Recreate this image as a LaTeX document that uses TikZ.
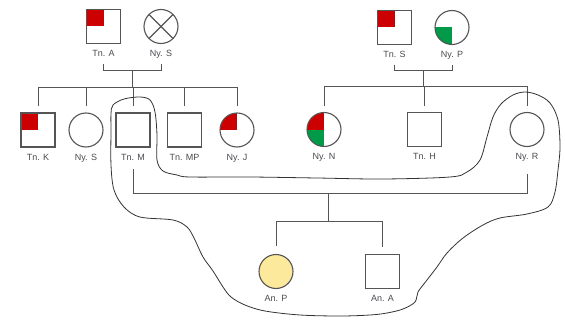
\documentclass[tikz,border=0pt]{standalone}
\usepackage{fontspec}
\setmainfont{Liberation Sans}
\usetikzlibrary{calc}

\definecolor{linec}{HTML}{555555}
\definecolor{textc}{HTML}{4A4A50}
\definecolor{affred}{HTML}{CC0000}
\definecolor{affgreen}{HTML}{009A48}
\definecolor{probyellow}{HTML}{FCE99C}

\tikzset{
  person/.style={draw=linec, line width=1.1pt, fill=white, inner sep=0pt, minimum size=34pt},
  male/.style={person, rectangle},
  female/.style={person, circle},
  redTL/.style={path picture={\fill[affred] (path picture bounding box.north west) rectangle (path picture bounding box.center);}},
  greenBL/.style={path picture={\fill[affgreen] (path picture bounding box.south west) rectangle (path picture bounding box.center);}},
  redTLgreenBL/.style={path picture={
      \fill[affred] (path picture bounding box.north west) rectangle (path picture bounding box.center);
      \fill[affgreen] (path picture bounding box.south west) rectangle (path picture bounding box.center);}},
  deceased/.style={path picture={
      \draw[linec, line width=1.1pt] (path picture bounding box.north west) -- (path picture bounding box.south east);
      \draw[linec, line width=1.1pt] (path picture bounding box.south west) -- (path picture bounding box.north east);}},
  pname/.style={text=textc, font=\fontsize{9}{10}\selectfont, inner sep=0pt, text height=6.5pt, text depth=0pt},
  conn/.style={draw=linec, line width=0.9pt},
  loopline/.style={draw=black!80, line width=0.8pt}
}

\begin{document}
\begin{tikzpicture}[x=1pt, y=-1pt]
\useasboundingbox (0,0) rectangle (565,321);

% ---- grandparents ----
\node[male, redTL] (tna) at (103.5,26.5) {};
\node[female, deceased] (nys1) at (161,26.5) {};
\node[male, redTL] (tns) at (394.5,27.5) {};
\node[female, greenBL] (nyp) at (452,27.5) {};

% ---- parents' generation ----
\node[male, redTL] (tnk) at (38,130) {};
\node[female] (nys2) at (86,130) {};
\node[male] (tnm) at (133,130) {};
\node[male] (tnmp) at (184.5,130) {};
\node[female, redTL] (nyj) at (237,130) {};
\node[female, redTLgreenBL] (nyn) at (324,129.5) {};
\node[male] (tnh) at (424.5,129.5) {};
\node[female] (nyr) at (527,129.5) {};

% ---- children ----
\node[female, fill=probyellow] (anp) at (276,271.5) {};
\node[male] (ana) at (382.5,271.5) {};

% ---- names ----
\foreach \p/\t in {tna/Tn. A, nys1/Ny. S, tns/Tn. S, nyp/Ny. P,
                   tnk/Tn. K, nys2/Ny. S, tnm/Tn. M, tnmp/Tn. MP, nyj/Ny. J,
                   nyn/Ny. N, tnh/Tn. H, nyr/Ny. R, anp/An. P, ana/An. A}
  \node[pname] (\p L) at ([yshift=-9.5pt]\p.south) {\t};

% ---- junction points ----
\coordinate (cpl1) at (132,70);
\coordinate (sib1) at (132,87);
\coordinate (cpl2) at (423,70);
\coordinate (sib2) at (423,86);
\coordinate (cpl3) at (328,193);
\coordinate (sib3) at (328,221);

% ---- couple Tn. A + Ny. S ----
\draw[conn] ([yshift=-10.5pt]tnaL.center) -- (tnaL |- cpl1) -- (nys1L |- cpl1) -- ([yshift=-10.5pt]nys1L.center);
\draw[conn] (cpl1) -- (sib1);
\draw[conn] (tnk.north |- sib1) -- (nyj.north |- sib1);
\foreach \c in {tnk, nys2, tnm, tnmp, nyj}
  \draw[conn] (\c.north |- sib1) -- ([yshift=6pt]\c.north);

% ---- couple Tn. S + Ny. P ----
\draw[conn] ([yshift=-10.5pt]tnsL.center) -- (tnsL |- cpl2) -- (nypL |- cpl2) -- ([yshift=-10.5pt]nypL.center);
\draw[conn] (cpl2) -- (sib2);
\draw[conn] (nyn.north |- sib2) -- (nyr.north |- sib2);
\foreach \c in {nyn, tnh, nyr}
  \draw[conn] (\c.north |- sib2) -- ([yshift=6pt]\c.north);

% ---- couple Tn. M + Ny. R ----
\draw[conn] ([yshift=-12pt]tnmL.center) -- (tnmL |- cpl3) -- (nyrL |- cpl3) -- ([yshift=-17pt]nyrL.center);
\draw[conn] (cpl3) -- (sib3);
\draw[conn] (anp.north |- sib3) -- (ana.north |- sib3);
\draw[conn] (anp.north |- sib3) -- ([yshift=8pt]anp.north);
\draw[conn] (ana.north |- sib3) -- ([yshift=7pt]ana.north);

% ---- freehand outline round the nuclear family ----
\draw[loopline] plot[smooth cycle, tension=0.55] coordinates {
  (113,105) (124,99) (140,97) (150,100) (155,112) (157,135) (157,160)
  (163,171) (177,175) (190,177) (250,177) (317,178) (383,179) (450,177)
  (467,172) (480,160) (487,137) (493,117) (501,104) (513,95) (525,92)
  (538,95) (550,103) (558,120) (560,147) (558,170) (555,192) (548,207)
  (527,214) (500,218) (483,225) (463,238) (447,253) (437,267) (427,280)
  (418,292) (415,302) (403,309) (387,313) (370,315) (340,316) (300,315)
  (265,311) (245,305) (231,297) (223,287) (213,271) (203,257) (194,238)
  (187,227) (173,220) (140,217) (124,207) (114,190) (111,165) (111,130)
  (111,114)};
\end{tikzpicture}
\end{document}
